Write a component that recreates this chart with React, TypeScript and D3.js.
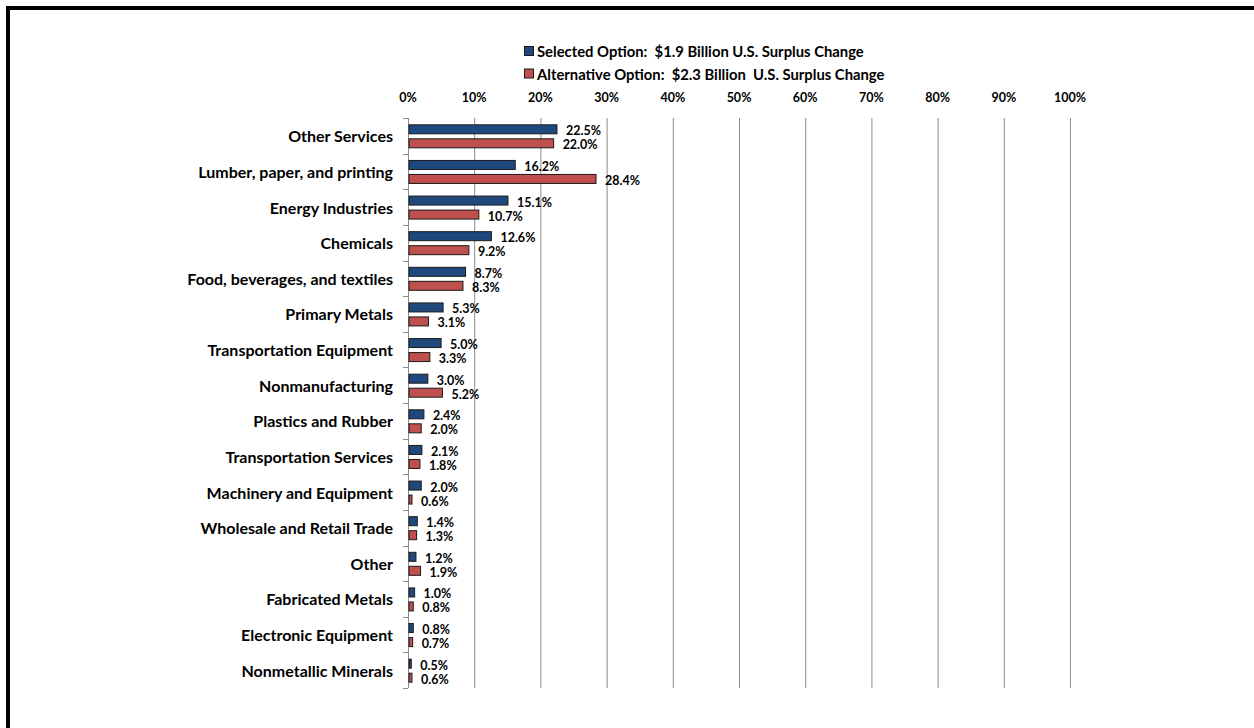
import React from "react";
import * as d3 from "d3";

const categories = [
  "Other Services",
  "Lumber, paper, and printing",
  "Energy Industries",
  "Chemicals",
  "Food, beverages, and textiles",
  "Primary Metals",
  "Transportation Equipment",
  "Nonmanufacturing",
  "Plastics and Rubber",
  "Transportation Services",
  "Machinery and Equipment",
  "Wholesale and Retail Trade",
  "Other",
  "Fabricated Metals",
  "Electronic Equipment",
  "Nonmetallic Minerals",
];
const selectedValues = [22.5, 16.2, 15.1, 12.6, 8.7, 5.3, 5.0, 3.0, 2.4, 2.1, 2.0, 1.4, 1.2, 1.0, 0.8, 0.5];
const alternativeValues = [22.0, 28.4, 10.7, 9.2, 8.3, 3.1, 3.3, 5.2, 2.0, 1.8, 0.6, 1.3, 1.9, 0.8, 0.7, 0.6];
const xTicks = [0, 10, 20, 30, 40, 50, 60, 70, 80, 90, 100];
const legendLabels = [
  "Selected Option:  $1.9 Billion U.S. Surplus Change",
  "Alternative Option:  $2.3 Billion  U.S. Surplus Change",
];

const BLUE = "#1F497D";
const RED = "#C0504D";
const FONT = "Lato, 'Open Sans', sans-serif";

export default function App() {
  const W = 1254, H = 728;
  const x = d3.scaleLinear().domain([0, 100]).range([408, 1070]);
  const y = d3.scaleBand().domain(categories).range([118, 688]);
  const bw = y.bandwidth();
  const barH = 9;
  const colors = [BLUE, RED];
  const series = [selectedValues, alternativeValues];

  return (
    <div style={{ position: "absolute", left: 0, top: 0, width: W, height: H, overflow: "hidden" }}>
      <svg width={W} height={H} style={{ display: "block", background: "#fff" }}>
        <rect x={0} y={0} width={W} height={H} fill="#fff" />
        <rect x={8} y={8} width={W + 20} height={H + 20} fill="none" stroke="#000" strokeWidth={4} />
        {xTicks.map((t) => (
          <line key={t} x1={x(t) + 0.5} x2={x(t) + 0.5} y1={118} y2={688} stroke="#8c8c8c" strokeWidth={1} />
        ))}
        {d3.range(categories.length + 1).map((i) => {
          const yy = Math.round(118 + i * bw) + 0.5;
          return <line key={i} x1={403} x2={408} y1={yy} y2={yy} stroke="#8c8c8c" strokeWidth={1} />;
        })}
        {xTicks.map((t) => (
          <text key={t} x={x(t)} y={102} textAnchor="middle" fontFamily={FONT} fontWeight="bold" fontSize={12.5} fill="#000">
            {t}%
          </text>
        ))}
        {categories.map((c, i) => {
          const cy = (y(c) as number) + bw / 2;
          return (
            <g key={c}>
              <text x={393} y={cy} textAnchor="end" dominantBaseline="central" fontFamily={FONT} fontWeight="bold" fontSize={16} fill="#000">
                {c}
              </text>
              {series.map((vals, s) => {
                const by = s === 0 ? cy - 11 : cy + 3;
                return (
                  <g key={s}>
                    <rect x={x(0) + 1} y={by} width={Math.max(x(vals[i]) - x(0) - 1, 1.5)} height={barH} fill={colors[s]} stroke="#1a1a1a" strokeWidth={1} />
                    <text x={x(vals[i]) + 9} y={by + barH / 2 + 1.5} dominantBaseline="central" fontFamily={FONT} fontWeight="bold" fontSize={12.5} fill="#000">
                      {vals[i].toFixed(1)}%
                    </text>
                  </g>
                );
              })}
            </g>
          );
        })}
        {legendLabels.map((l, i) => (
          <g key={l}>
            <rect x={524.5} y={46.5 + i * 22.5} width={9} height={9} fill={colors[i]} stroke="#1a1a1a" strokeWidth={1} />
            <text x={537} y={51 + i * 22.5} dominantBaseline="central" fontFamily={FONT} fontWeight="bold" fontSize={14.8} fill="#000" style={{ whiteSpace: "pre" }} xmlSpace="preserve">
              {l}
            </text>
          </g>
        ))}
      </svg>
    </div>
  );
}
